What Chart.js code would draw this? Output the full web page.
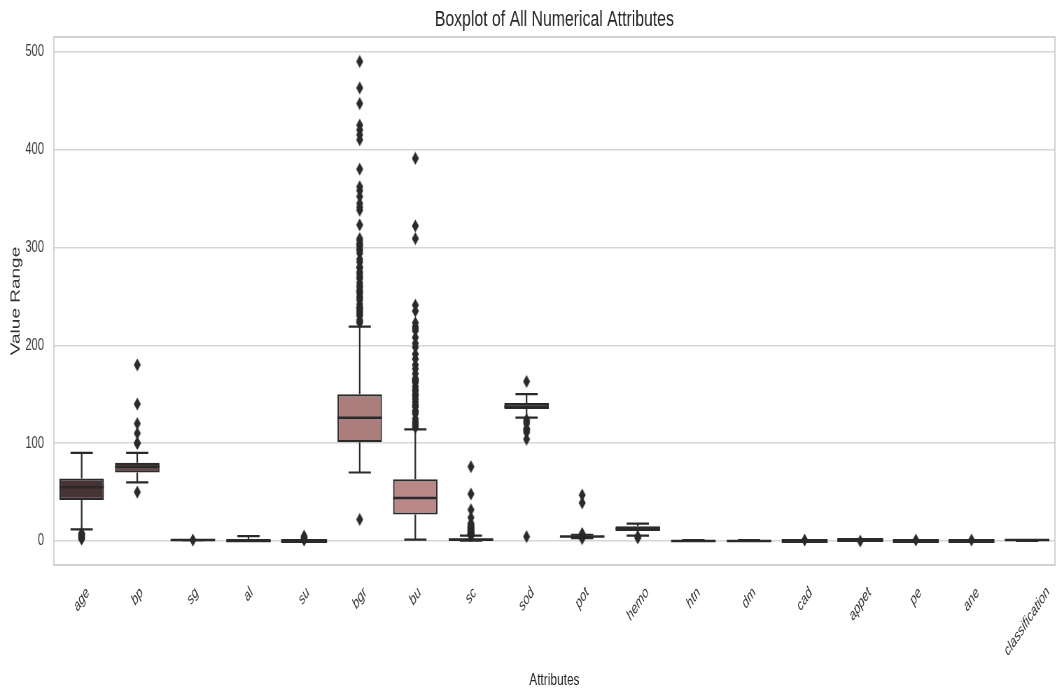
<!DOCTYPE html>
<html>
<head>
<meta charset="utf-8">
<title>Boxplot of All Numerical Attributes</title>
<script src="https://cdn.jsdelivr.net/npm/chart.js@4.4.1/dist/chart.umd.min.js"></script>
<style>
    html, body { margin: 0; padding: 0; background: #ffffff; overflow: hidden; }
    #frame { width: 1059px; height: 695px; overflow: hidden; position: relative; }
    /* la figura original esta comprimida en horizontal */
    #wrap { width: 1513px; height: 695px; position: absolute; left: 0; top: 0;
            transform: scaleX(0.7); transform-origin: 0 0; }
</style>
</head>
<body>
<div id="frame"><div id="wrap"><canvas id="boxChart"></canvas></div></div>
<script>
// datos
const categories = ['age', 'bp', 'sg', 'al', 'su', 'bgr', 'bu', 'sc', 'sod', 'pot', 'hemo', 'htn', 'dm', 'cad', 'appet', 'pe', 'ane', 'classification'];
const q1 = [42, 70, 1.015, 0, 0, 101, 27, 0.9, 135, 3.8, 10.3, 0, 0, 0, 1, 0, 0, 0];
const medians = [55, 76, 1.02, 0, 0, 126, 44, 1.3, 137.5, 4.6, 12.5, 0, 0, 0, 1, 0, 0, 1];
const q3 = [64, 80, 1.02, 2, 0, 150, 63, 2.8, 141, 4.9, 15, 1, 1, 0, 1, 0, 0, 1];
const whiskerLow = [12, 60, 1.01, 0, 0, 70, 1.5, 0.4, 126, 3.0, 5.6, 0, 0, 0, 1, 0, 0, 0];
const whiskerHigh = [90, 90, 1.025, 5, 0, 219, 114, 5.6, 150, 6.4, 17.8, 1, 1, 0, 1, 0, 0, 1];
const outliers = [
    [2, 3, 4, 5, 6, 7, 8],
    [50, 100, 100, 110, 120, 140, 180],
    [1.005],
    [],
    [1, 2, 3, 4, 5],
    [22, 223, 224, 226, 230, 232, 234, 236, 238, 239, 242, 246, 248, 250, 253, 255, 256, 259, 261, 264, 268, 270, 273, 275, 279, 280, 285, 288, 294, 297, 298, 301, 303, 304, 307, 309, 323, 338, 341, 345, 352, 358, 362, 380, 410, 415, 420, 425, 447, 463, 490],
    [116, 118, 120, 122, 125, 130, 132, 133, 137, 139, 142, 145, 148, 150, 153, 155, 158, 162, 163, 164, 165, 166, 171, 176, 180, 186, 191, 198, 202, 208, 215, 217, 219, 223, 235, 241, 309, 322, 391],
    [5.9, 6.0, 6.1, 6.5, 6.7, 7.2, 7.3, 7.7, 8.5, 9.6, 9.7, 10.8, 11.5, 12.2, 13.3, 13.8, 14.2, 15.2, 16.9, 18, 24, 32, 48.1, 76],
    [4.5, 104, 111, 113, 114, 115, 120, 122, 124, 163],
    [2.5, 6.6, 7.6, 39, 47],
    [3.1, 4.8],
    [],
    [],
    [1],
    [0],
    [1],
    [1],
    []
];
const yTicks = [0, 100, 200, 300, 400, 500];
const yMin = -24.5;
const yMax = 515;
const chartTitle = 'Boxplot of All Numerical Attributes';

// paleta tipo seaborn "pink" desaturada
function pinkColor(t) {
    const hr = Math.min(1, t / 0.365);
    const hg = Math.max(0, Math.min(1, (t - 0.365) / 0.381));
    const hb = Math.max(0, Math.min(1, (t - 0.746) / 0.254));
    let rgb = [hr, hg, hb].map(h => Math.sqrt(2 / 3 * t + 1 / 3 * h));
    const mx = Math.max(...rgb), mn = Math.min(...rgb);
    const l = (mx + mn) / 2;
    if (mx - mn > 0) {
        rgb = rgb.map(c => l + (c - l) * 0.75);
    }
    return 'rgb(' + rgb.map(c => Math.round(c * 255)).join(',') + ')';
}
const boxColors = categories.map((c, i) => pinkColor((i + 1) / (categories.length + 1)));

const LINE = '#2a2a2a';
const FONT = "'Liberation Sans', Arial, sans-serif";

// marcador en forma de diamante delgado
function diamondMarker() {
    const c = document.createElement('canvas');
    c.width = 11; c.height = 14;
    const g = c.getContext('2d');
    g.fillStyle = LINE;
    g.beginPath();
    g.moveTo(5.5, 0.5); g.lineTo(10.5, 7); g.lineTo(5.5, 13.5); g.lineTo(0.5, 7);
    g.closePath();
    g.fill();
    return c;
}

const outlierPoints = [];
outliers.forEach((list, i) => list.forEach(v => outlierPoints.push({ x: categories[i], y: v })));

const boxPlugin = {
    id: 'boxParts',
    beforeDatasetsDraw(chart) {
        const { ctx, chartArea: a } = chart;
        ctx.save();
        ctx.strokeStyle = '#cfcfcf';
        ctx.lineWidth = 1.8;
        ctx.strokeRect(a.left, a.top, a.right - a.left, a.bottom - a.top);
        ctx.restore();
    },
    afterDatasetDraw(chart, args) {
        if (args.index !== 0) return;
        const { ctx } = chart;
        const y = chart.scales.y;
        const meta = chart.getDatasetMeta(0);
        ctx.save();
        ctx.strokeStyle = LINE;
        meta.data.forEach((bar, i) => {
            const cx = bar.x;
            const half = bar.width / 2;
            const cap = bar.width / 4;
            const yq1 = y.getPixelForValue(q1[i]);
            const yq3 = y.getPixelForValue(q3[i]);
            const ylo = y.getPixelForValue(whiskerLow[i]);
            const yhi = y.getPixelForValue(whiskerHigh[i]);
            const ym = y.getPixelForValue(medians[i]);
            ctx.lineWidth = 2.2;
            ctx.beginPath();
            ctx.moveTo(cx, yq3); ctx.lineTo(cx, yhi);
            ctx.moveTo(cx, yq1); ctx.lineTo(cx, ylo);
            ctx.moveTo(cx - cap, yhi); ctx.lineTo(cx + cap, yhi);
            ctx.moveTo(cx - cap, ylo); ctx.lineTo(cx + cap, ylo);
            ctx.stroke();
            ctx.lineWidth = 2.5;
            ctx.beginPath();
            ctx.moveTo(cx - half, ym); ctx.lineTo(cx + half, ym);
            ctx.stroke();
            if (q1[i] === q3[i]) {
                ctx.lineWidth = 4;
                ctx.beginPath();
                ctx.moveTo(cx - half - 1, yq1); ctx.lineTo(cx + half + 1, yq1);
                ctx.stroke();
            }
        });
        ctx.restore();
    },
    afterDraw(chart) {
        const { ctx, chartArea: a } = chart;
        const xs = chart.scales.x;
        ctx.save();
        // titulo centrado sobre el area del grafico
        ctx.fillStyle = '#262626';
        ctx.font = '22.6px ' + FONT;
        ctx.textAlign = 'center';
        ctx.textBaseline = 'middle';
        ctx.fillText(chartTitle, (a.left + a.right) / 2, 20);
        // etiquetas del eje x, giradas 45 grados y centradas en cada tick
        ctx.fillStyle = '#333333';
        ctx.font = 'italic 15.5px ' + FONT;
        const top = a.bottom + 20;
        categories.forEach((label, i) => {
            const tx = xs.getPixelForTick(i);
            const w = ctx.measureText(label).width;
            const h = (w + 15.5) * Math.SQRT1_2;
            ctx.save();
            ctx.translate(tx, top + h / 2);
            ctx.rotate(-Math.PI * 0.26);
            ctx.fillText(label, 0, 0);
            ctx.restore();
        });
        ctx.restore();
    }
};

new Chart(document.getElementById('boxChart'), {
    type: 'bar',
    data: {
        labels: categories,
        datasets: [{
            data: categories.map((c, i) => [q1[i], q3[i]]),
            backgroundColor: boxColors,
            borderColor: LINE,
            borderWidth: 2.2,
            borderSkipped: false,
            barPercentage: 0.8,
            categoryPercentage: 1.0,
            order: 1
        }, {
            type: 'line',
            data: outlierPoints,
            showLine: false,
            pointStyle: diamondMarker(),
            pointRadius: 5,
            order: 0
        }]
    },
    options: {
        responsive: true,
        maintainAspectRatio: false,
        animation: false,
        layout: { padding: { left: 4, right: 3, top: 37, bottom: 4 } },
        plugins: {
            legend: { display: false },
            tooltip: { enabled: false },
            title: { display: false }
        },
        scales: {
            x: {
                grid: { display: false, drawTicks: false },
                border: { display: false },
                ticks: { display: false },
                title: {
                    display: true,
                    text: 'Attributes',
                    color: '#262626',
                    font: { family: FONT, size: 17 },
                    padding: { top: 105.6, bottom: 0 }
                }
            },
            y: {
                min: yMin,
                max: yMax,
                afterBuildTicks(scale) {
                    scale.ticks = yTicks.map(v => ({ value: v }));
                },
                grid: { color: '#d6d6d6', lineWidth: 1.5, drawTicks: false },
                border: { display: false },
                ticks: {
                    color: '#3a3a3a',
                    font: { family: FONT, size: 16 },
                    padding: 14
                },
                title: {
                    display: true,
                    text: 'Value Range',
                    color: '#2e2e2e',
                    font: { family: FONT, size: 19 },
                    padding: { top: 7.6, bottom: -12.2 }
                }
            }
        }
    },
    plugins: [boxPlugin]
});
</script>
</body>
</html>
